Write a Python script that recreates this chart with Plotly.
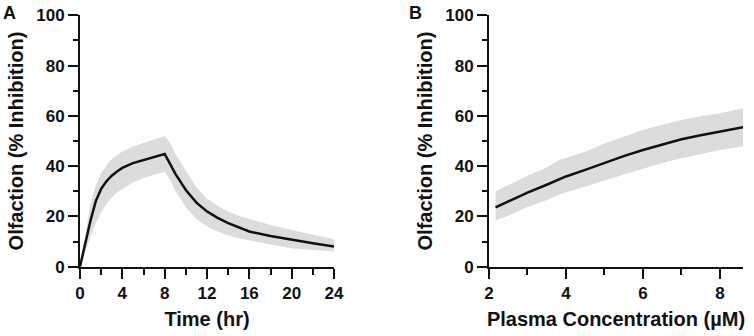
import plotly.graph_objects as go

# Panel A: olfaction inhibition over time
time_hr = [0, 0.5, 1, 1.5, 2, 2.5, 3, 3.5, 4, 5, 6, 7, 8, 8.5, 9, 10, 11, 12, 13, 14, 15, 16, 18, 20, 22, 24]
time_mean = [0, 9.5, 18.5, 26.2, 31.0, 34.0, 36.2, 37.9, 39.3, 41.2, 42.5, 43.7, 44.8, 41, 37, 30.5, 25.5, 22, 19.4, 17.3, 15.5, 14, 12.2, 10.6, 9.3, 8.0]
time_upper = [0, 13, 25, 32.5, 37.2, 40.3, 42.8, 44.4, 45.8, 47.8, 49.3, 50.5, 52, 49.4, 45, 38.2, 31.6, 27, 24.2, 22, 20.3, 19, 16.6, 14.6, 12.7, 10.9]
time_lower = [0, 6, 12, 17.5, 21.5, 25, 27.5, 29.5, 31, 33.5, 35.3, 36.6, 37.8, 34.5, 30.2, 23.6, 19, 16, 14, 12.4, 11.3, 10.3, 8.8, 7.3, 6.6, 6]

# Panel B: olfaction inhibition vs plasma concentration
conc_um = [2.17, 2.5, 3, 3.5, 3.85, 4, 4.5, 5, 5.5, 6, 6.5, 7, 7.5, 8, 8.6]
conc_mean = [23.6, 26, 29.5, 32.6, 35.0, 35.9, 38.5, 41.3, 44.0, 46.4, 48.6, 50.7, 52.3, 53.7, 55.5]
conc_upper = [30, 32.5, 36.2, 39.5, 42.6, 43.2, 45.7, 49.0, 51.7, 54.4, 56.5, 58.4, 59.8, 61, 63]
conc_lower = [18.4, 20.3, 23.7, 26.5, 28.8, 29.5, 32, 34.3, 36.7, 39.1, 41.2, 43.1, 44.8, 46.4, 47.8]

x_ticks_a = [0, 4, 8, 12, 16, 20, 24]
x_ticks_b = [2, 4, 6, 8]
y_ticks = [0, 20, 40, 60, 80, 100]

W, H = 754, 336

def fx(px):
    return px / W

def fy(py):
    return 1 - py / H

BAND = "#dcdcdc"
INK = "#111111"
FONT = "Liberation Sans, Arial, sans-serif"

fig = go.Figure()

def add_panel(x, mean, lo, hi, xa, ya):
    fig.add_trace(go.Scatter(
        x=list(x) + list(x)[::-1], y=list(hi) + list(lo)[::-1],
        fill="toself", fillcolor=BAND, line=dict(width=0), mode="lines",
        hoverinfo="skip", showlegend=False, xaxis=xa, yaxis=ya))
    fig.add_trace(go.Scatter(
        x=x, y=mean, mode="lines", line=dict(color=INK, width=2.5),
        showlegend=False, xaxis=xa, yaxis=ya))

add_panel(time_hr, time_mean, time_lower, time_upper, "x", "y")
add_panel(conc_um, conc_mean, conc_lower, conc_upper, "x2", "y2")

tickfont = dict(family=FONT, size=17, color=INK, weight="bold")
titlefont = dict(family=FONT, size=20, color=INK, weight="bold")

common = dict(showgrid=False, zeroline=False, showline=True, linecolor=INK,
              linewidth=2, ticks="outside", ticklen=10, tickwidth=2, tickcolor=INK,
              tickfont=tickfont, automargin=False, fixedrange=True,
              ticklabeloverflow="allow")

ydom = [fy(266.7), fy(15.3)]

fig.update_layout(
    width=W, height=H, margin=dict(l=0, r=0, t=0, b=0),
    paper_bgcolor="white", plot_bgcolor="white",
    xaxis=dict(domain=[fx(80), fx(334)], range=[0, 24], tickvals=x_ticks_a,
               minor=dict(dtick=2, tick0=0, ticklen=6, tickwidth=2, tickcolor=INK, ticks="outside"),
               title=dict(text="Time (hr)", font=titlefont, standoff=10), anchor="y", **common),
    yaxis=dict(domain=ydom, range=[0, 100], tickvals=y_ticks,
               minor=dict(dtick=10, tick0=0, ticklen=5, tickwidth=2, tickcolor=INK, ticks="outside"),
               title=dict(text="Olfaction (% Inhibition)", font=titlefont, standoff=7), anchor="x", **common),
    xaxis2=dict(domain=[fx(489), fx(743)], range=[2, 8.6], tickvals=x_ticks_b,
                minor=dict(dtick=1, tick0=0, ticklen=6, tickwidth=2, tickcolor=INK, ticks="outside"),
                title=dict(text="Plasma Concentration (µM)", font=titlefont, standoff=10), anchor="y2", **common),
    yaxis2=dict(domain=ydom, range=[0, 100], tickvals=y_ticks,
                minor=dict(dtick=10, tick0=0, ticklen=5, tickwidth=2, tickcolor=INK, ticks="outside"),
                title=dict(text="Olfaction (% Inhibition)", font=titlefont, standoff=7), anchor="x2", **common),
    annotations=[
        dict(text="A", x=fx(2), y=fy(2), xref="paper", yref="paper", xanchor="left", yanchor="top",
             showarrow=False, borderpad=0, font=dict(family=FONT, size=18, color=INK, weight="bold")),
        dict(text="B", x=fx(408), y=fy(2), xref="paper", yref="paper", xanchor="left", yanchor="top",
             showarrow=False, borderpad=0, font=dict(family=FONT, size=18, color=INK, weight="bold")),
    ],
)

# remove the default 8px page margin so the 754x336 figure fills the window exactly
fig.write_html("out.html", config={"displayModeBar": False},
               post_script="document.body.style.margin='0px';")
